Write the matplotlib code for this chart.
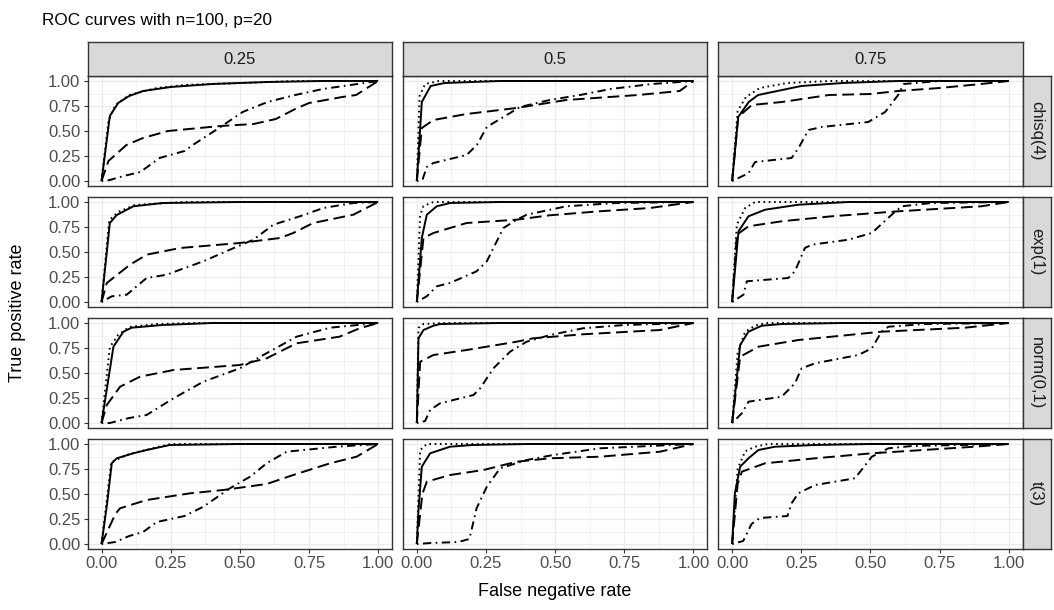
import matplotlib
matplotlib.use("Agg")
import matplotlib.pyplot as plt
from matplotlib.ticker import MultipleLocator

plt.rcParams['font.family'] = ['Liberation Sans', 'DejaVu Sans']
plt.rcParams['lines.scale_dashes'] = False

# facet labels
probs = ["0.25", "0.5", "0.75"]
dists = ["chisq(4)", "exp(1)", "norm(0,1)", "t(3)"]
ticks = [0.0, 0.25, 0.5, 0.75, 1.0]
tick_labels = ["0.00", "0.25", "0.50", "0.75", "1.00"]

# ROC curves: (false negative rate, true positive rate)
chisq_p25_solid = [(0, 0), (0.03, 0.65), (0.06, 0.78), (0.1, 0.85), (0.15, 0.9), (0.25, 0.94), (0.4, 0.97), (0.6, 0.99), (0.8, 1.0), (1, 1)]
chisq_p25_dotted = [(0, 0), (0.025, 0.6), (0.05, 0.76), (0.1, 0.86), (0.2, 0.93), (0.3, 0.96), (0.5, 0.98), (0.7, 1.0), (1, 1)]
chisq_p25_dashed = [(0, 0), (0.025, 0.2), (0.09, 0.36), (0.15, 0.43), (0.24, 0.5), (0.43, 0.55), (0.55, 0.57), (0.63, 0.62), (0.7, 0.72), (0.75, 0.78), (0.87, 0.84), (0.92, 0.86), (1, 1)]
chisq_p25_dotdash = [(0, 0), (0.03, 0.01), (0.08, 0.05), (0.14, 0.09), (0.21, 0.23), (0.3, 0.3), (0.33, 0.36), (0.43, 0.54), (0.51, 0.69), (0.6, 0.79), (0.7, 0.86), (0.8, 0.92), (0.9, 0.96), (1, 1)]

chisq_p50_solid = [(0, 0), (0.018, 0.79), (0.05, 0.95), (0.1, 0.98), (0.3, 1.0), (1, 1)]
chisq_p50_dotted = [(0, 0), (0.01, 0.85), (0.03, 0.97), (0.08, 1.0), (1, 1)]
chisq_p50_dashed = [(0, 0), (0.018, 0.53), (0.06, 0.61), (0.18, 0.67), (0.36, 0.73), (0.54, 0.81), (0.8, 0.86), (0.95, 0.9), (1, 1)]
chisq_p50_dotdash = [(0, 0), (0.02, 0.01), (0.036, 0.14), (0.06, 0.18), (0.18, 0.26), (0.217, 0.36), (0.253, 0.54), (0.337, 0.68), (0.373, 0.74), (0.48, 0.81), (0.59, 0.86), (0.7, 0.92), (0.85, 0.97), (1, 1)]

chisq_p75_solid = [(0, 0), (0.022, 0.64), (0.06, 0.79), (0.094, 0.86), (0.25, 0.95), (0.4, 0.98), (0.6, 1.0), (1, 1)]
chisq_p75_dotted = [(0, 0), (0.02, 0.7), (0.05, 0.84), (0.1, 0.93), (0.2, 0.98), (0.35, 1.0), (1, 1)]
chisq_p75_dashed = [(0, 0), (0.022, 0.64), (0.071, 0.76), (0.18, 0.79), (0.35, 0.86), (0.5, 0.87), (0.6, 0.9), (0.75, 0.93), (0.9, 0.97), (1, 1)]
chisq_p75_dotdash = [(0, 0), (0.059, 0.077), (0.083, 0.19), (0.215, 0.23), (0.24, 0.33), (0.276, 0.51), (0.324, 0.54), (0.492, 0.59), (0.553, 0.69), (0.6, 0.86), (0.62, 0.97), (0.75, 1.0), (1, 1)]

exp_p25_solid = [(0, 0), (0.03, 0.79), (0.055, 0.87), (0.115, 0.957), (0.22, 0.99), (0.5, 1.0), (1, 1)]
exp_p25_dotted = [(0, 0), (0.028, 0.82), (0.06, 0.9), (0.12, 0.97), (0.3, 1.0), (1, 1)]
exp_p25_dashed = [(0, 0), (0.019, 0.19), (0.103, 0.373), (0.163, 0.473), (0.284, 0.54), (0.5, 0.59), (0.645, 0.64), (0.693, 0.69), (0.765, 0.79), (0.91, 0.873), (1, 1)]
exp_p25_dotdash = [(0, 0), (0.037, 0.057), (0.091, 0.073), (0.163, 0.24), (0.236, 0.273), (0.284, 0.323), (0.368, 0.407), (0.464, 0.523), (0.549, 0.623), (0.621, 0.773), (0.717, 0.857), (0.802, 0.94), (0.91, 0.99), (1, 1)]

exp_p50_solid = [(0, 0), (0.018, 0.64), (0.036, 0.873), (0.072, 0.957), (0.12, 0.99), (0.3, 1.0), (1, 1)]
exp_p50_dotted = [(0, 0), (0.012, 0.87), (0.024, 0.96), (0.06, 1.0), (1, 1)]
exp_p50_dashed = [(0, 0), (0.024, 0.64), (0.06, 0.69), (0.18, 0.79), (0.36, 0.823), (0.48, 0.867), (0.66, 0.907), (0.843, 0.94), (1, 1)]
exp_p50_dotdash = [(0, 0), (0.036, 0.057), (0.072, 0.157), (0.12, 0.19), (0.216, 0.307), (0.253, 0.407), (0.289, 0.607), (0.313, 0.74), (0.361, 0.823), (0.397, 0.873), (0.54, 0.957), (0.72, 0.99), (1, 1)]

exp_p75_solid = [(0, 0), (0.023, 0.707), (0.059, 0.857), (0.119, 0.923), (0.24, 0.973), (0.42, 1.0), (1, 1)]
exp_p75_dotted = [(0, 0), (0.017, 0.773), (0.047, 0.94), (0.083, 1.0), (1, 1)]
exp_p75_dashed = [(0, 0), (0.017, 0.673), (0.059, 0.757), (0.179, 0.807), (0.36, 0.857), (0.6, 0.907), (0.9, 0.957), (1, 1)]
exp_p75_dotdash = [(0, 0), (0.041, 0.073), (0.053, 0.207), (0.203, 0.24), (0.227, 0.307), (0.263, 0.54), (0.288, 0.573), (0.42, 0.623), (0.505, 0.69), (0.577, 0.873), (0.613, 0.957), (0.72, 0.99), (1, 1)]

norm_p25_solid = [(0, 0), (0.043, 0.763), (0.079, 0.913), (0.109, 0.953), (0.22, 0.98), (0.4, 1.0), (1, 1)]
norm_p25_dotted = [(0, 0), (0.03, 0.76), (0.06, 0.88), (0.1, 0.96), (0.2, 0.99), (0.35, 1.0), (1, 1)]
norm_p25_dashed = [(0, 0), (0.019, 0.18), (0.067, 0.363), (0.139, 0.463), (0.26, 0.53), (0.5, 0.58), (0.597, 0.647), (0.705, 0.797), (0.86, 0.863), (0.933, 0.947), (1, 1)]
norm_p25_dotdash = [(0, 0), (0.03, 0.0), (0.1, 0.05), (0.163, 0.08), (0.26, 0.247), (0.368, 0.413), (0.5, 0.547), (0.585, 0.68), (0.705, 0.863), (0.826, 0.953), (1, 1)]

norm_p50_solid = [(0, 0), (0.006, 0.847), (0.024, 0.93), (0.06, 0.973), (0.085, 0.99), (0.3, 1.0), (1, 1)]
norm_p50_dotted = [(0, 0), (0.006, 0.95), (0.024, 0.99), (0.1, 1.0), (1, 1)]
norm_p50_dashed = [(0, 0), (0.012, 0.613), (0.06, 0.68), (0.18, 0.73), (0.361, 0.813), (0.421, 0.847), (0.6, 0.887), (0.879, 0.93), (1, 1)]
norm_p50_dotdash = [(0, 0), (0.03, 0.02), (0.048, 0.13), (0.084, 0.197), (0.205, 0.28), (0.229, 0.347), (0.277, 0.547), (0.337, 0.713), (0.397, 0.813), (0.482, 0.88), (0.6, 0.947), (0.75, 0.98), (1, 1)]

norm_p75_solid = [(0, 0), (0.029, 0.78), (0.059, 0.913), (0.107, 0.973), (0.18, 0.99), (0.4, 1.0), (1, 1)]
norm_p75_dotted = [(0, 0), (0.02, 0.7), (0.047, 0.913), (0.083, 0.973), (0.12, 1.0), (1, 1)]
norm_p75_dashed = [(0, 0), (0.029, 0.663), (0.095, 0.763), (0.24, 0.83), (0.42, 0.88), (0.54, 0.913), (0.842, 0.953), (1, 1)]
norm_p75_dotdash = [(0, 0), (0.035, 0.097), (0.059, 0.213), (0.179, 0.263), (0.227, 0.397), (0.251, 0.547), (0.3, 0.597), (0.456, 0.68), (0.505, 0.747), (0.54, 0.913), (0.565, 0.963), (0.7, 0.99), (1, 1)]

t3_p25_solid = [(0, 0), (0.02, 0.4), (0.037, 0.807), (0.055, 0.857), (0.115, 0.907), (0.163, 0.94), (0.247, 0.99), (0.5, 1.0), (1, 1)]
t3_p25_dotted = [(0, 0), (0.035, 0.82), (0.1, 0.9), (0.25, 1.0), (1, 1)]
t3_p25_dashed = [(0, 0), (0.05, 0.3), (0.067, 0.357), (0.163, 0.44), (0.32, 0.507), (0.44, 0.54), (0.597, 0.6), (0.693, 0.69), (0.826, 0.807), (0.922, 0.873), (1, 1)]
t3_p25_dotdash = [(0, 0), (0.05, 0.02), (0.1, 0.08), (0.15, 0.12), (0.2, 0.22), (0.3, 0.28), (0.368, 0.373), (0.464, 0.557), (0.537, 0.673), (0.597, 0.807), (0.669, 0.923), (0.85, 0.973), (1, 1)]

t3_p50_solid = [(0, 0), (0.006, 0.34), (0.018, 0.773), (0.048, 0.907), (0.12, 0.973), (0.2, 0.99), (0.4, 1.0), (1, 1)]
t3_p50_dotted = [(0, 0), (0.012, 0.94), (0.036, 1.0), (1, 1)]
t3_p50_dashed = [(0, 0), (0.02, 0.5), (0.036, 0.623), (0.12, 0.69), (0.241, 0.74), (0.361, 0.823), (0.481, 0.857), (0.662, 0.873), (0.879, 0.923), (1, 1)]
t3_p50_dotdash = [(0, 0), (0.05, 0.01), (0.15, 0.02), (0.19, 0.05), (0.216, 0.357), (0.253, 0.573), (0.301, 0.757), (0.397, 0.84), (0.493, 0.89), (0.662, 0.957), (1, 1)]

t3_p75_solid = [(0, 0), (0.01, 0.507), (0.029, 0.773), (0.059, 0.857), (0.095, 0.94), (0.155, 0.973), (0.3, 0.99), (0.5, 1.0), (1, 1)]
t3_p75_dotted = [(0, 0), (0.02, 0.75), (0.047, 0.927), (0.083, 0.973), (0.13, 1.0), (1, 1)]
t3_p75_dashed = [(0, 0), (0.02, 0.6), (0.035, 0.723), (0.119, 0.807), (0.3, 0.857), (0.505, 0.907), (0.878, 0.973), (1, 1)]
t3_p75_dotdash = [(0, 0), (0.04, 0.03), (0.07, 0.2), (0.1, 0.26), (0.2, 0.28), (0.215, 0.407), (0.239, 0.507), (0.3, 0.59), (0.444, 0.657), (0.505, 0.873), (0.565, 0.957), (0.65, 0.98), (1, 1)]

# table row = distribution, column = probability
panels = [
    [(chisq_p25_solid, chisq_p25_dotted, chisq_p25_dashed, chisq_p25_dotdash),
     (chisq_p50_solid, chisq_p50_dotted, chisq_p50_dashed, chisq_p50_dotdash),
     (chisq_p75_solid, chisq_p75_dotted, chisq_p75_dashed, chisq_p75_dotdash)],
    [(exp_p25_solid, exp_p25_dotted, exp_p25_dashed, exp_p25_dotdash),
     (exp_p50_solid, exp_p50_dotted, exp_p50_dashed, exp_p50_dotdash),
     (exp_p75_solid, exp_p75_dotted, exp_p75_dashed, exp_p75_dotdash)],
    [(norm_p25_solid, norm_p25_dotted, norm_p25_dashed, norm_p25_dotdash),
     (norm_p50_solid, norm_p50_dotted, norm_p50_dashed, norm_p50_dotdash),
     (norm_p75_solid, norm_p75_dotted, norm_p75_dashed, norm_p75_dotdash)],
    [(t3_p25_solid, t3_p25_dotted, t3_p25_dashed, t3_p25_dotdash),
     (t3_p50_solid, t3_p50_dotted, t3_p50_dashed, t3_p50_dotdash),
     (t3_p75_solid, t3_p75_dotted, t3_p75_dashed, t3_p75_dotdash)],
]

# linetypes (solid, dotted, dashed, dotdash) in points
styles = ['-', (0, (1.2, 2.6)), (0, (8.5, 4.0)), (0, (1.2, 3.2, 6.0, 3.2))]

W, H = 1054, 610
fig = plt.figure(figsize=(W / 100, H / 100), dpi=100, facecolor='white')

# layout in pixels
left0, panel_w, gap = 87.7, 304.3, 11.0
top0, panel_h = 76.0, 110.0
strip_h, strip_w = 34.0, 28.0
tick_size = 12


def rect(x, y, w, h):
    return [x / W, 1 - (y + h) / H, w / W, h / H]


def style_strip(sax):
    sax.set_facecolor('#D9D9D9')
    sax.set_xticks([])
    sax.set_yticks([])
    for sp in sax.spines.values():
        sp.set_color('#333333')
        sp.set_linewidth(1.0)


for r in range(4):
    for c in range(3):
        x0 = left0 + c * (panel_w + gap)
        y0 = top0 + r * (panel_h + gap)
        ax = fig.add_axes(rect(x0, y0, panel_w, panel_h))
        ax.set_facecolor('white')
        for curve, ls in zip(panels[r][c], styles):
            xs = [p[0] for p in curve]
            ys = [p[1] for p in curve]
            ax.plot(xs, ys, color='black', lw=1.4, linestyle=ls,
                    solid_capstyle='butt', dash_capstyle='butt')
        ax.set_xlim(-0.05, 1.05)
        ax.set_ylim(-0.05, 1.05)
        ax.xaxis.set_minor_locator(MultipleLocator(0.125))
        ax.yaxis.set_minor_locator(MultipleLocator(0.125))
        ax.set_xticks(ticks)
        ax.set_yticks(ticks)
        ax.grid(which='major', color='#EBEBEB', lw=0.9)
        ax.grid(which='minor', color='#EBEBEB', lw=0.45)
        ax.set_axisbelow(True)
        ax.tick_params(which='minor', length=0)
        ax.tick_params(which='major', length=3.2, width=0.8, color='#333333',
                       labelcolor='#4D4D4D', labelsize=tick_size, pad=2)
        if r == 3:
            ax.set_xticklabels(tick_labels)
        else:
            ax.tick_params(axis='x', length=0, labelbottom=False)
        if c == 0:
            ax.set_yticklabels(tick_labels)
        else:
            ax.tick_params(axis='y', length=0, labelleft=False)
        for sp in ax.spines.values():
            sp.set_color('#333333')
            sp.set_linewidth(1.0)
            sp.set_zorder(5)

        if r == 0:
            sax = fig.add_axes(rect(x0, top0 - strip_h, panel_w, strip_h))
            style_strip(sax)
            sax.text(0.5, 0.5, probs[c], transform=sax.transAxes, ha='center',
                     va='center', fontsize=tick_size, color='#1A1A1A')
        if c == 2:
            sax = fig.add_axes(rect(x0 + panel_w, y0, strip_w, panel_h))
            style_strip(sax)
            sax.text(0.5, 0.5, dists[r], transform=sax.transAxes, ha='center',
                     va='center', rotation=-90, fontsize=tick_size, color='#1A1A1A')

bottom = top0 + 4 * panel_h + 3 * gap
right = left0 + 3 * panel_w + 2 * gap
fig.text(42 / W, 1 - 20 / H, "ROC curves with n=100, p=20", ha='left', va='center',
         fontsize=12.3, color='black')
fig.text(18 / W, 1 - (top0 + bottom) / 2 / H, "True positive rate", rotation=90,
         ha='center', va='center', fontsize=13, color='black')
fig.text((left0 + right) / 2 / W, 1 - 592 / H, "False negative rate", ha='center',
         va='center', fontsize=13, color='black')

fig.savefig('out.png', dpi=100, facecolor='white')
